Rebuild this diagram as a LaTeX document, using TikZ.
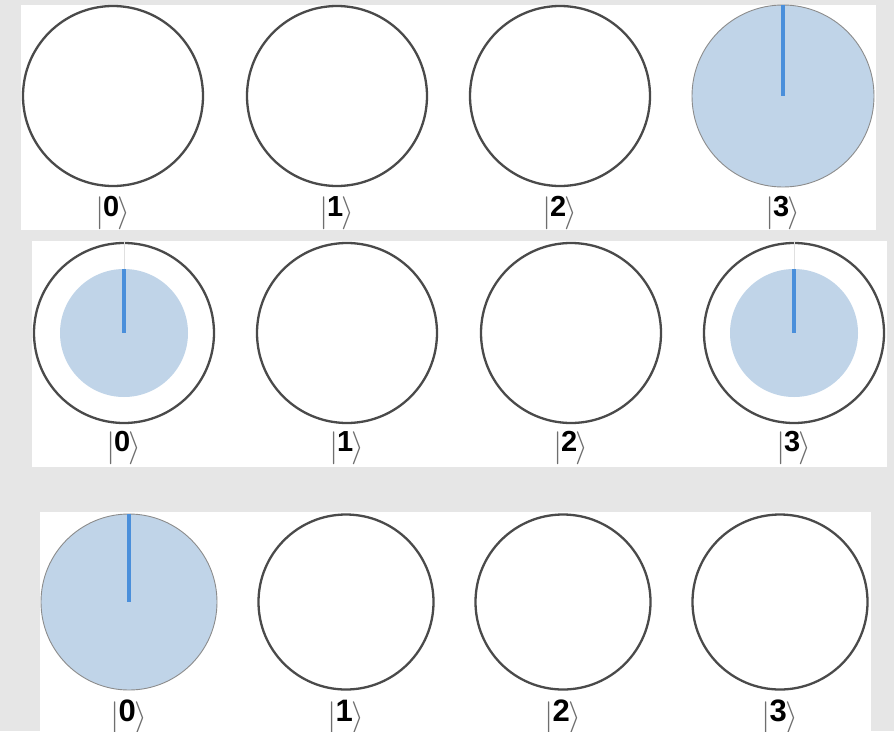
\documentclass[tikz,border=0pt]{standalone}
\usepackage{graphicx}
\usepackage{fontspec}
\setsansfont{Liberation Sans}
\definecolor{bgc}{HTML}{E6E6E6}
\definecolor{ringc}{HTML}{4A4A4A}
\definecolor{edgec}{HTML}{8C8C8C}
\definecolor{ampc}{HTML}{C0D4E8}
\definecolor{phasec}{HTML}{4A8FDB}
\definecolor{barc}{HTML}{6E6E6E}
\newcommand{\ketlab}[2][29]{{\color{barc}\raisebox{-5pt}{\scalebox{3.3}{$|$}}}\kern-1.5pt{\fontsize{#1}{#1}\selectfont\sffamily\bfseries #2}\kern-1.5pt{\color{barc}\raisebox{-5pt}{\scalebox{3.3}{$\rangle$}}}}
\tikzset{
  panel/.style={fill=white, draw=none},
  ring/.style={circle, draw=ringc, line width=2.3pt, fill=white, inner sep=0pt},
  fullamp/.style={circle, draw=edgec, line width=0.9pt, fill=ampc, inner sep=0pt},
  partamp/.style={circle, draw=none, fill=ampc, inner sep=0pt},
  phase/.style={draw=phasec, line width=3.5pt},
  faint/.style={draw=black!12, line width=0.9pt},
  ket/.style={inner sep=0pt, anchor=base}
}
\begin{document}
\begin{tikzpicture}[x=1pt,y=-1pt]
\fill[bgc] (0,0) rectangle (894,731);
\useasboundingbox (0,0) rectangle (894,731);
% panels
\fill[panel] (21,5) rectangle (876,230);
\fill[panel] (32,241) rectangle (887,467);
\fill[panel] (40,512) rectangle (871,731);

% row 1
\node[ring, minimum size=180pt] (a0) at (113,96) {};
\node[ring, minimum size=180pt] (a1) at (337,96) {};
\node[ring, minimum size=180pt] (a2) at (560,96) {};
\node[fullamp, minimum size=182pt] (a3) at (783,96) {};
\draw[phase] (a3.north) -- (a3.center);
\node[ket] (ka0) at (113,216) {\ketlab{0}};
\node[ket] (ka1) at (337,216) {\ketlab{1}};
\node[ket] (ka2) at (560,216) {\ketlab{2}};
\node[ket] (ka3) at (783,216) {\ketlab{3}};

% row 2
\node[ring, minimum size=180pt] (b0) at (124,333) {};
\node[partamp, minimum size=128pt] (bi0) at (124,333) {};
\draw[faint] (b0.north) -- (bi0.north);
\draw[phase] (bi0.north) -- (bi0.center);
\node[ring, minimum size=180pt] (b1) at (347,333) {};
\node[ring, minimum size=180pt] (b2) at (571,333) {};
\node[ring, minimum size=180pt] (b3) at (794,333) {};
\node[partamp, minimum size=128pt] (bi3) at (794,333) {};
\draw[faint] (b3.north) -- (bi3.north);
\draw[phase] (bi3.north) -- (bi3.center);
\node[ket] (kb0) at (124,451) {\ketlab{0}};
\node[ket] (kb1) at (347,451) {\ketlab{1}};
\node[ket] (kb2) at (571,451) {\ketlab{2}};
\node[ket] (kb3) at (794,451) {\ketlab{3}};

% row 3
\node[fullamp, minimum size=176pt] (c0) at (129,602) {};
\draw[phase] (c0.north) -- (c0.center);
\node[ring, minimum size=175pt] (c1) at (346,602) {};
\node[ring, minimum size=175pt] (c2) at (563,602) {};
\node[ring, minimum size=175pt] (c3) at (780,602) {};
\node[ket] (kc0) at (129,721) {\ketlab[31]{0}};
\node[ket] (kc1) at (346,721) {\ketlab[31]{1}};
\node[ket] (kc2) at (563,721) {\ketlab[31]{2}};
\node[ket] (kc3) at (780,721) {\ketlab[31]{3}};
\end{tikzpicture}
\end{document}
